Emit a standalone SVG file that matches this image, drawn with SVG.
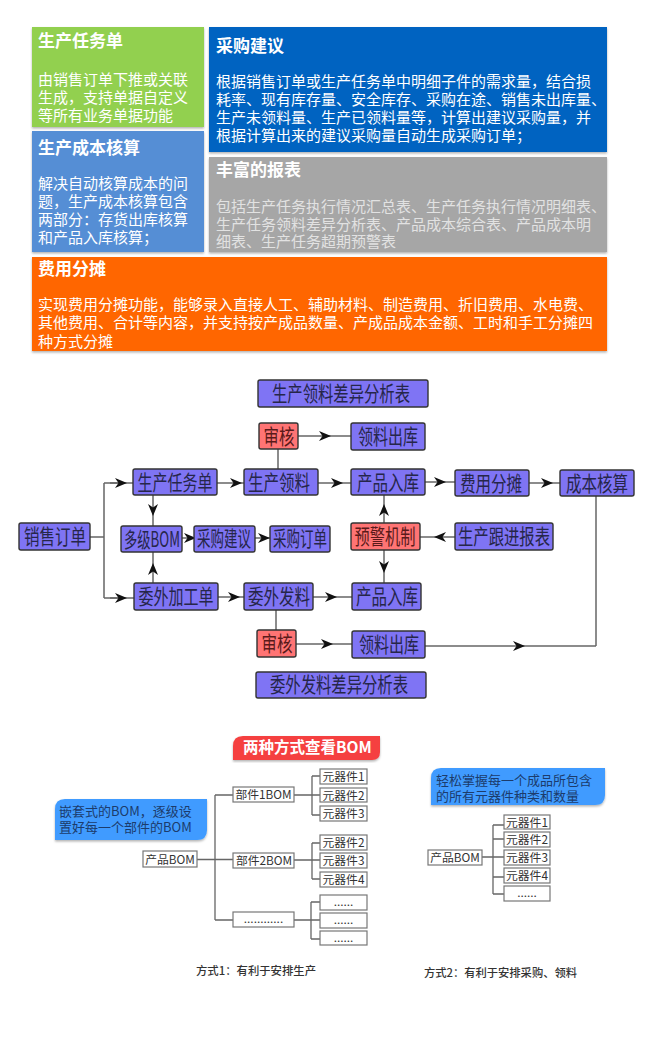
<svg xmlns="http://www.w3.org/2000/svg" width="655" height="1050" viewBox="0 0 655 1050">
<style>
text{font-family:"Noto Sans CJK SC","Liberation Sans",sans-serif}
.card{filter:url(#sh)}
.t{font-size:17px;font-weight:700;fill:#fff}
.b{font-size:15px;fill:#fff}
.g{fill:#e2e2e2}
.n rect{stroke:#333;stroke-width:1.4;fill:#7f74f4}
.r rect{fill:#ff7474}
.n text{font-size:21px;fill:#26264a;text-anchor:middle}
.r text{fill:#5a1a1a}
.con path{fill:none;stroke:#666;stroke-width:1.5;marker-mid:url(#ar)}
.con .plain{marker-mid:none}
.tree path{fill:none;stroke:#666;stroke-width:1.3}
.bx rect{fill:#fff;stroke:#777;stroke-width:1.2}
.bx text{font-size:11.800px;fill:#333;text-anchor:middle}
.note{font-size:13px;fill:#1c3c6c}
.cap{font-size:11px;fill:#333;font-weight:500}
</style>
<defs>
<filter id="sh" x="-5%" y="-5%" width="110%" height="115%"><feDropShadow dx="0" dy="1.5" stdDeviation="1" flood-color="#000" flood-opacity=".3"/></filter>
<marker id="ar" markerUnits="userSpaceOnUse" markerWidth="14" markerHeight="12" refX="7" refY="6" orient="auto"><path d="M1 1L13 6L1 11L4.500 6Z" fill="#111"/></marker>
</defs>
<rect width="655" height="1050" fill="#fff"/>

<g id="card-production-order"><rect class="card" x="32" y="27" width="172" height="100" fill="#92d050"/>
<text class="t" x="38" y="47">生产任务单</text>
<text class="b" x="38" y="85">由销售订单下推或关联</text><text class="b" x="38" y="103">生成，支持单据自定义</text><text class="b" x="38" y="121">等所有业务单据功能</text></g>
<g id="card-cost-accounting"><rect class="card" x="32" y="131" width="172" height="121" fill="#558ed5"/>
<text class="t" x="38" y="154">生产成本核算</text>
<text class="b" x="38" y="189">解决自动核算成本的问</text><text class="b" x="38" y="207">题，生产成本核算包含</text><text class="b" x="38" y="225">两部分：存货出库核算</text><text class="b" x="38" y="243">和产品入库核算；</text></g>
<g id="card-purchase"><rect class="card" x="209" y="27" width="398" height="125" fill="#0563c1"/>
<text class="t" x="216" y="52">采购建议</text>
<text class="b" x="216" y="87">根据销售订单或生产任务单中明细子件的需求量，结合损</text><text class="b" x="216" y="105">耗率、现有库存量、安全库存、采购在途、销售未出库量、</text><text class="b" x="216" y="123">生产未领料量、生产已领料量等，计算出建议采购量，并</text><text class="b" x="216" y="141">根据计算出来的建议采购量自动生成采购订单；</text></g>
<g id="card-reports"><rect class="card" x="209" y="157" width="398" height="95" fill="#a6a6a6"/>
<text class="t" x="216" y="176">丰富的报表</text>
<text class="b g" x="216" y="212">包括生产任务执行情况汇总表、生产任务执行情况明细表、</text><text class="b g" x="216" y="230">生产任务领料差异分析表、产品成本综合表、产品成本明</text><text class="b g" x="216" y="247">细表、生产任务超期预警表</text></g>
<g id="card-allocation"><rect class="card" x="32" y="257" width="575" height="94" fill="#ff6600"/>
<text class="t" x="38" y="275">费用分摊</text>
<text class="b" x="38" y="310">实现费用分摊功能，能够录入直接人工、辅助材料、制造费用、折旧费用、水电费、</text><text class="b" x="38" y="328">其他费用、合计等内容，并支持按产成品数量、产成品成本金额、工时和手工分摊四</text><text class="b" x="38" y="347">种方式分摊</text></g>

<g id="connectors" class="con">
<path class="plain" d="M90 537H104M104 483V598M104 483H121M104 598H121"/>
<path d="M110 483L121 483L133 483"/>
<path d="M110 598L121 598L134 598"/>
<path d="M217 483L236 483L244 483"/>
<path d="M153 495L153 510L153 526"/>
<path d="M153 583L153 569L153 552"/>
<path d="M182 538L190 538L194 538"/>
<path d="M255 538L264 538L270 538"/>
<path d="M218 597L234 597L244 597"/>
<path d="M318 483L337 483L351 483"/>
<path d="M425 482L440 482L455 482"/>
<path d="M529 483L547 483L560 483"/>
<path d="M425 646L519 646L596 646"/>
<path class="plain" d="M596 646V496"/>
<path d="M384 523L384 510L384 495"/>
<path d="M384 550L384 567L384 583"/>
<path d="M455 537L440 537L420 537"/>
<path d="M313 597L331 597L352 597"/>
<path d="M298 436L325 436L351 436"/>
<path d="M296 644L327 644L352 644"/>
<path class="plain" d="M278 449V469"/>
<path class="plain" d="M276 610V630"/>
</g>

<g id="n-prod-diff" class="n"><rect x="258" y="380" width="170" height="27" rx="2"/><text x="341" y="401" textLength="138" lengthAdjust="spacingAndGlyphs">生产领料差异分析表</text></g>
<g id="n-audit1" class="n r"><rect x="259" y="423" width="39" height="26" rx="2"/><text x="279" y="444" textLength="31" lengthAdjust="spacingAndGlyphs">审核</text></g>
<g id="n-out1" class="n"><rect x="351" y="423" width="74" height="27" rx="2"/><text x="388" y="444" textLength="60" lengthAdjust="spacingAndGlyphs">领料出库</text></g>
<g id="n-task" class="n"><rect x="133" y="469" width="84" height="26" rx="2"/><text x="175" y="490" textLength="75" lengthAdjust="spacingAndGlyphs">生产任务单</text></g>
<g id="n-pick" class="n"><rect x="244" y="469" width="74" height="26" rx="2"/><text x="279" y="490" textLength="62" lengthAdjust="spacingAndGlyphs">生产领料</text></g>
<g id="n-in1" class="n"><rect x="351" y="469" width="74" height="26" rx="2"/><text x="388" y="490" textLength="62" lengthAdjust="spacingAndGlyphs">产品入库</text></g>
<g id="n-fee" class="n"><rect x="455" y="470" width="74" height="26" rx="2"/><text x="491" y="491" textLength="62" lengthAdjust="spacingAndGlyphs">费用分摊</text></g>
<g id="n-cost" class="n"><rect x="560" y="470" width="74" height="26" rx="2"/><text x="597" y="491" textLength="62" lengthAdjust="spacingAndGlyphs">成本核算</text></g>
<g id="n-sales" class="n"><rect x="19" y="523" width="71" height="27" rx="2"/><text x="55" y="544" textLength="62" lengthAdjust="spacingAndGlyphs">销售订单</text></g>
<g id="n-bom" class="n"><rect x="121" y="526" width="61" height="26" rx="2"/><text x="152" y="547" textLength="56" lengthAdjust="spacingAndGlyphs">多级BOM</text></g>
<g id="n-suggest" class="n"><rect x="194" y="526" width="61" height="26" rx="2"/><text x="224" y="546" textLength="54" lengthAdjust="spacingAndGlyphs">采购建议</text></g>
<g id="n-po" class="n"><rect x="270" y="526" width="60" height="26" rx="2"/><text x="300" y="546" textLength="54" lengthAdjust="spacingAndGlyphs">采购订单</text></g>
<g id="n-alert" class="n r"><rect x="351" y="523" width="69" height="27" rx="2"/><text x="385" y="544" textLength="61" lengthAdjust="spacingAndGlyphs">预警机制</text></g>
<g id="n-track" class="n"><rect x="455" y="523" width="98" height="27" rx="2"/><text x="504" y="544" textLength="92" lengthAdjust="spacingAndGlyphs">生产跟进报表</text></g>
<g id="n-outsource" class="n"><rect x="134" y="583" width="84" height="27" rx="2"/><text x="176" y="604" textLength="75" lengthAdjust="spacingAndGlyphs">委外加工单</text></g>
<g id="n-send" class="n"><rect x="244" y="583" width="69" height="27" rx="2"/><text x="279" y="604" textLength="62" lengthAdjust="spacingAndGlyphs">委外发料</text></g>
<g id="n-in2" class="n"><rect x="352" y="583" width="69" height="27" rx="2"/><text x="387" y="604" textLength="62" lengthAdjust="spacingAndGlyphs">产品入库</text></g>
<g id="n-audit2" class="n r"><rect x="257" y="630" width="39" height="27" rx="2"/><text x="277" y="651" textLength="31" lengthAdjust="spacingAndGlyphs">审核</text></g>
<g id="n-out2" class="n"><rect x="352" y="631" width="73" height="27" rx="2"/><text x="389" y="652" textLength="60" lengthAdjust="spacingAndGlyphs">领料出库</text></g>
<g id="n-send-diff" class="n"><rect x="256" y="672" width="170" height="26" rx="2"/><text x="339" y="692" textLength="138" lengthAdjust="spacingAndGlyphs">委外发料差异分析表</text></g>

<g id="banner"><path class="card" d="M243 736H380V752Q380 760 372 760H233V746Q233 736 243 736Z" fill="#f5403f"/><text x="243" y="753" font-size="15.500" font-weight="700" fill="#fff">两种方式查看BOM</text></g>
<g id="note1"><path class="card" d="M65 799H207V830Q207 840 197 840H55V809Q55 799 65 799Z" fill="#3f9bff"/><text class="note" x="59" y="816">嵌套式的BOM，逐级设</text><text class="note" x="59" y="832">置好每一个部件的BOM</text></g>
<g id="note2"><path class="card" d="M441 768H605V795Q605 805 595 805H431V778Q431 768 441 768Z" fill="#3f9bff"/><text class="note" x="436" y="785">轻松掌握每一个成品所包含</text><text class="note" x="436" y="801">的所有元器件种类和数量</text></g>

<g id="tree-connectors" class="tree">
<path d="M197 859.500H233M215 795V920M215 795H233M215 920H233"/>
<path d="M294 795H320M312 776V815M312 776H320M312 815H320"/>
<path d="M294 860H320M312 843V879M312 843H320M312 879H320"/>
<path d="M294 920H320M311 902V939M311 902H320M311 939H320"/>
<path d="M482 857H504M493 825V894M493 825H504M493 839H504M493 877H504M493 894H504"/>
</g>
<g id="bom-a" class="bx"><rect x="143" y="851" width="54" height="16"/><text x="170" y="864">产品BOM</text></g>
<g id="part1" class="bx"><rect x="233" y="787" width="61" height="15"/><text x="263.500" y="799">部件1BOM</text></g>
<g id="part2" class="bx"><rect x="233" y="853" width="61" height="15"/><text x="264" y="865">部件2BOM</text></g>
<g id="part3" class="bx"><rect x="233" y="912" width="61" height="15"/><text x="263.500" y="923">............</text></g>
<g id="c11" class="bx"><rect x="320" y="769" width="47" height="15"/><text x="343.500" y="781">元器件1</text></g>
<g id="c12" class="bx"><rect x="320" y="788" width="47" height="14"/><text x="343.500" y="800">元器件2</text></g>
<g id="c13" class="bx"><rect x="320" y="806" width="47" height="15"/><text x="343.500" y="818">元器件3</text></g>
<g id="c21" class="bx"><rect x="320" y="835" width="47" height="15"/><text x="343.500" y="847">元器件2</text></g>
<g id="c22" class="bx"><rect x="320" y="853" width="47" height="15"/><text x="343.500" y="865">元器件3</text></g>
<g id="c23" class="bx"><rect x="320" y="872" width="47" height="15"/><text x="343.500" y="884">元器件4</text></g>
<g id="c31" class="bx"><rect x="320" y="895" width="47" height="15"/><text x="343.500" y="906">......</text></g>
<g id="c32" class="bx"><rect x="320" y="913" width="47" height="15"/><text x="343.500" y="924">......</text></g>
<g id="c33" class="bx"><rect x="320" y="931" width="47" height="14"/><text x="343.500" y="942">......</text></g>
<g id="bom-b" class="bx"><rect x="428" y="850" width="54" height="15"/><text x="455" y="862">产品BOM</text></g>
<g id="d1" class="bx"><rect x="504" y="815" width="46" height="14"/><text x="527" y="827">元器件1</text></g>
<g id="d2" class="bx"><rect x="504" y="832" width="46" height="15"/><text x="527" y="844">元器件2</text></g>
<g id="d3" class="bx"><rect x="504" y="850" width="46" height="15"/><text x="527" y="862">元器件3</text></g>
<g id="d4" class="bx"><rect x="504" y="868" width="46" height="15"/><text x="527" y="880">元器件4</text></g>
<g id="d5" class="bx"><rect x="504" y="886" width="46" height="15"/><text x="527" y="897">......</text></g>
<text class="cap" x="196" y="975" textLength="120" lengthAdjust="spacingAndGlyphs">方式1：有利于安排生产</text>
<text class="cap" x="424" y="977" textLength="153" lengthAdjust="spacingAndGlyphs">方式2：有利于安排采购、领料</text>
</svg>
